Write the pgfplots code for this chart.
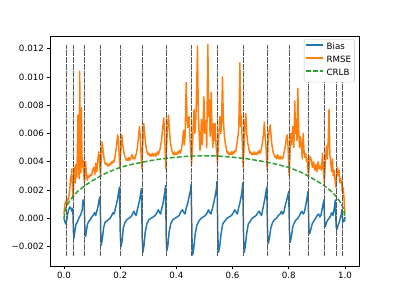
\documentclass[border=0pt]{standalone}
\usepackage{fontspec}
\setmainfont{DejaVu Sans}
\usepackage{pgfplots}
\pgfplotsset{compat=1.18}
\definecolor{mplblue}{HTML}{1F77B4}
\definecolor{mplorange}{HTML}{FF7F0E}
\definecolor{mplgreen}{HTML}{2CA02C}
\begin{document}
\begin{tikzpicture}
\path[use as bounding box] (-57.6pt,-38.02pt) rectangle (403.2pt,307.58pt);
\begin{axis}[
  at={(0,0)}, anchor=south west,
  scale only axis, width=357.12pt, height=266.11pt,
  xmin=-0.05, xmax=1.05, ymin=-0.0034, ymax=0.0129,
  xtick={0,0.2,0.4,0.6,0.8,1.0},
  xticklabels={0.0,0.2,0.4,0.6,0.8,1.0},
  ytick={-0.002,0,0.002,0.004,0.006,0.008,0.010,0.012},
  yticklabels={−0.002,0.000,0.002,0.004,0.006,0.008,0.010,0.012},
  scaled y ticks=false, scaled x ticks=false,
  tick align=outside, major tick length=3.5pt,
  every tick/.style={black, line width=0.8pt},
  axis line style={line width=0.8pt},
  ticklabel style={font=\fontsize{10}{12}\selectfont},
  xtick pos=bottom, ytick pos=left,
  legend cell align=left,
  legend style={at={(1,1)}, anchor=north east, xshift=-5pt, yshift=-4pt,
    draw=black!25, fill=white,
    rounded corners=2pt, font=\fontsize{10}{12}\selectfont,
    inner xsep=1pt, inner ysep=3pt, row sep=2.01pt,
    nodes={inner xsep=3pt, inner ysep=1.5pt, text height=7.5pt, text depth=2.5pt}},
  legend image code/.code={\draw[#1, line width=2pt] (0pt,3.5pt) -- (20pt,3.5pt);},
]
\addplot[mplblue, line width=1.7pt, line join=round] coordinates {
(0.000,0.0000) (0.003,-0.0002) (0.006,-0.0004) (0.0095,-0.0002) (0.013,0.0003) (0.017,0.0006) (0.021,0.0008) (0.025,0.0007) (0.028,0.0005) (0.030,0.0007) (0.032,0.0004) (0.034,-0.0010) (0.036,-0.0014) (0.039,-0.0009) (0.043,-0.0004) (0.047,-0.0003) (0.051,-0.0001) (0.055,0.0001) (0.059,0.0002) (0.062,0.0004) (0.065,0.0006) (0.068,0.0013) (0.071,0.0012) (0.0725,0.0008) (0.0745,-0.0008) (0.077,-0.0013) (0.080,-0.0009) (0.084,-0.0004) (0.089,-0.0002) (0.094,-0.0001) (0.099,0.0001) (0.104,0.0002) (0.109,0.0004) (0.113,0.0002) (0.117,0.0005) (0.121,0.0008) (0.125,0.0013) (0.128,0.0015) (0.1295,0.0008) (0.131,-0.0010) (0.133,-0.0019) (0.137,-0.0014) (0.141,-0.0007) (0.146,-0.0003) (0.152,-0.0002) (0.158,-0.0001) (0.164,0.0000) (0.170,0.0002) (0.175,0.0004) (0.179,0.0003) (0.183,0.0007) (0.187,0.0010) (0.191,0.0014) (0.195,0.0019) (0.1975,0.0022) (0.199,0.0005) (0.2005,-0.0012) (0.203,-0.0020) (0.207,-0.0016) (0.211,-0.0007) (0.217,-0.0003) (0.224,-0.0001) (0.231,0.0000) (0.238,0.0001) (0.244,0.0003) (0.249,0.0005) (0.253,0.0003) (0.257,0.0002) (0.261,0.0006) (0.266,0.0010) (0.270,0.0014) (0.2735,0.0018) (0.2755,0.0021) (0.277,0.0004) (0.2785,-0.0014) (0.281,-0.0024) (0.285,-0.0019) (0.289,-0.0010) (0.295,-0.0004) (0.302,-0.0001) (0.310,0.0000) (0.318,0.0001) (0.325,0.0002) (0.331,0.0004) (0.336,0.0006) (0.340,0.0004) (0.344,0.0003) (0.348,0.0007) (0.352,0.0010) (0.356,0.0015) (0.3595,0.0019) (0.361,0.0023) (0.3625,0.0006) (0.364,-0.0014) (0.366,-0.0023) (0.370,-0.0019) (0.374,-0.0010) (0.380,-0.0004) (0.387,-0.0001) (0.395,0.0000) (0.403,0.0001) (0.410,0.0002) (0.417,0.0005) (0.422,0.0006) (0.427,0.0004) (0.431,0.0003) (0.436,0.0008) (0.441,0.0011) (0.446,0.0016) (0.4505,0.0020) (0.4525,0.0024) (0.454,0.0006) (0.4555,-0.0014) (0.458,-0.0026) (0.462,-0.0021) (0.467,-0.0011) (0.473,-0.0005) (0.480,-0.0002) (0.488,0.0000) (0.496,0.0001) (0.503,0.0002) (0.510,0.0004) (0.514,0.0006) (0.519,0.0004) (0.523,0.0003) (0.528,0.0007) (0.533,0.0011) (0.538,0.0016) (0.5425,0.0021) (0.5445,0.0026) (0.546,0.0007) (0.5475,-0.0013) (0.550,-0.0024) (0.554,-0.0020) (0.559,-0.0011) (0.565,-0.0004) (0.572,-0.0002) (0.580,0.0000) (0.588,0.0001) (0.596,0.0002) (0.603,0.0004) (0.608,0.0006) (0.613,0.0004) (0.617,0.0003) (0.621,0.0007) (0.626,0.0011) (0.631,0.0016) (0.6345,0.0021) (0.636,0.0025) (0.6375,0.0006) (0.639,-0.0013) (0.6415,-0.0024) (0.645,-0.0020) (0.650,-0.0011) (0.656,-0.0004) (0.663,-0.0002) (0.670,0.0000) (0.677,0.0001) (0.684,0.0002) (0.690,0.0004) (0.695,0.0005) (0.699,0.0003) (0.703,0.0002) (0.707,0.0006) (0.711,0.0010) (0.715,0.0014) (0.719,0.0019) (0.7215,0.0022) (0.723,0.0005) (0.7245,-0.0011) (0.727,-0.0018) (0.731,-0.0014) (0.736,-0.0007) (0.742,-0.0003) (0.749,-0.0001) (0.756,0.0000) (0.763,0.0002) (0.769,0.0003) (0.774,0.0005) (0.778,0.0003) (0.782,0.0004) (0.786,0.0008) (0.790,0.0011) (0.794,0.0014) (0.7975,0.0017) (0.7995,0.0019) (0.801,0.0004) (0.8025,-0.0010) (0.805,-0.0017) (0.809,-0.0013) (0.814,-0.0006) (0.820,-0.0003) (0.826,-0.0001) (0.832,0.0000) (0.838,0.0002) (0.843,0.0004) (0.847,0.0005) (0.851,0.0003) (0.855,0.0004) (0.859,0.0008) (0.863,0.0012) (0.866,0.0016) (0.8685,0.0019) (0.870,0.0004) (0.8715,-0.0007) (0.874,-0.0011) (0.878,-0.0008) (0.883,-0.0004) (0.889,-0.0002) (0.895,0.0000) (0.901,0.0002) (0.906,0.0003) (0.910,0.0001) (0.914,0.0002) (0.918,0.0006) (0.922,0.0010) (0.925,0.0013) (0.9263,0.0004) (0.928,-0.0004) (0.930,-0.0006) (0.934,-0.0003) (0.939,-0.0001) (0.944,0.0000) (0.949,0.0002) (0.953,0.0004) (0.957,0.0002) (0.960,0.0005) (0.963,0.0009) (0.9655,0.0013) (0.967,0.0002) (0.9685,-0.0006) (0.971,-0.0008) (0.975,-0.0005) (0.979,-0.0003) (0.983,0.0000) (0.986,0.0002) (0.989,0.0006) (0.9905,0.0002) (0.992,-0.0003) (0.995,-0.0001) (0.998,-0.0002) (1.000,0.0001)
};
\addlegendentry{Bias}
\addplot[mplorange, line width=1.7pt, line join=round] coordinates {
(0.000,0.0003) (0.003,0.0009) (0.006,0.0012) (0.0095,0.0010) (0.012,0.0014) (0.015,0.0013) (0.018,0.0016) (0.021,0.0021) (0.024,0.0030) (0.026,0.0026) (0.028,0.0035) (0.030,0.0022) (0.033,0.0014) (0.036,0.0031) (0.038,0.0036) (0.040,0.0025) (0.042,0.0038) (0.044,0.0030) (0.046,0.0029) (0.048,0.0050) (0.050,0.0073) (0.052,0.0040) (0.054,0.0028) (0.056,0.0104) (0.058,0.0060) (0.060,0.0032) (0.062,0.0078) (0.064,0.0045) (0.066,0.0036) (0.068,0.0041) (0.070,0.0032) (0.0737,0.0025) (0.077,0.0040) (0.080,0.0032) (0.083,0.0027) (0.086,0.0030) (0.090,0.0029) (0.094,0.0031) (0.098,0.0030) (0.102,0.0034) (0.106,0.0036) (0.110,0.0031) (0.113,0.0039) (0.117,0.0033) (0.121,0.0042) (0.124,0.0047) (0.127,0.0040) (0.130,0.0030) (0.133,0.0044) (0.136,0.0054) (0.139,0.0048) (0.143,0.0042) (0.146,0.0039) (0.149,0.0038) (0.152,0.0039) (0.155,0.0037) (0.158,0.0038) (0.161,0.0037) (0.164,0.0039) (0.167,0.0038) (0.170,0.0040) (0.173,0.0039) (0.176,0.0041) (0.179,0.0040) (0.183,0.0045) (0.187,0.0051) (0.191,0.0059) (0.194,0.0055) (0.197,0.0043) (0.199,0.0035) (0.202,0.0047) (0.206,0.0059) (0.209,0.0052) (0.213,0.0047) (0.216,0.0044) (0.219,0.0043) (0.222,0.0041) (0.225,0.0042) (0.228,0.0041) (0.231,0.0043) (0.234,0.0041) (0.237,0.0042) (0.240,0.0044) (0.243,0.0045) (0.246,0.0042) (0.249,0.0043) (0.252,0.0042) (0.255,0.0044) (0.258,0.0046) (0.262,0.0051) (0.266,0.0059) (0.269,0.0065) (0.272,0.0056) (0.275,0.0043) (0.277,0.0035) (0.280,0.0050) (0.284,0.0067) (0.287,0.0060) (0.291,0.0052) (0.295,0.0047) (0.300,0.0045) (0.303,0.0046) (0.306,0.0044) (0.309,0.0045) (0.312,0.0044) (0.315,0.0046) (0.318,0.0044) (0.321,0.0045) (0.324,0.0046) (0.327,0.0044) (0.330,0.0045) (0.333,0.0047) (0.336,0.0045) (0.339,0.0047) (0.342,0.0049) (0.347,0.0055) (0.351,0.0063) (0.355,0.0071) (0.358,0.0062) (0.3605,0.0045) (0.3625,0.0035) (0.365,0.0049) (0.368,0.0064) (0.372,0.0073) (0.375,0.0063) (0.379,0.0053) (0.384,0.0048) (0.387,0.0046) (0.390,0.0045) (0.393,0.0047) (0.396,0.0045) (0.399,0.0046) (0.402,0.0045) (0.405,0.0047) (0.408,0.0046) (0.411,0.0048) (0.414,0.0046) (0.418,0.0049) (0.422,0.0055) (0.425,0.0062) (0.428,0.0052) (0.431,0.0058) (0.435,0.0096) (0.438,0.0070) (0.441,0.0064) (0.445,0.0072) (0.448,0.0058) (0.451,0.0048) (0.454,0.0038) (0.457,0.0050) (0.460,0.0066) (0.463,0.0077) (0.466,0.0060) (0.469,0.0070) (0.472,0.0088) (0.475,0.0122) (0.478,0.0075) (0.481,0.0060) (0.484,0.0048) (0.487,0.0058) (0.489,0.0070) (0.492,0.0052) (0.495,0.0065) (0.498,0.0086) (0.501,0.0060) (0.505,0.0069) (0.508,0.0050) (0.512,0.0123) (0.515,0.0072) (0.517,0.0084) (0.520,0.0058) (0.522,0.0066) (0.524,0.0089) (0.527,0.0060) (0.530,0.0050) (0.532,0.0067) (0.535,0.0055) (0.538,0.0067) (0.541,0.0052) (0.544,0.0045) (0.546,0.0039) (0.549,0.0050) (0.552,0.0062) (0.555,0.0072) (0.558,0.0060) (0.561,0.0068) (0.564,0.0100) (0.567,0.0070) (0.570,0.0060) (0.574,0.0053) (0.578,0.0049) (0.581,0.0046) (0.584,0.0047) (0.587,0.0045) (0.590,0.0046) (0.593,0.0045) (0.596,0.0047) (0.599,0.0045) (0.602,0.0047) (0.605,0.0046) (0.608,0.0048) (0.611,0.0047) (0.614,0.0051) (0.618,0.0056) (0.622,0.0064) (0.626,0.0110) (0.629,0.0065) (0.631,0.0073) (0.634,0.0056) (0.6375,0.0036) (0.641,0.0052) (0.644,0.0068) (0.647,0.0074) (0.650,0.0060) (0.654,0.0053) (0.659,0.0048) (0.662,0.0046) (0.665,0.0047) (0.668,0.0045) (0.671,0.0046) (0.674,0.0045) (0.677,0.0047) (0.680,0.0045) (0.683,0.0046) (0.686,0.0045) (0.689,0.0047) (0.692,0.0046) (0.695,0.0048) (0.698,0.0046) (0.701,0.0048) (0.705,0.0052) (0.709,0.0058) (0.713,0.0068) (0.716,0.0057) (0.719,0.0050) (0.723,0.0034) (0.726,0.0052) (0.730,0.0062) (0.734,0.0066) (0.738,0.0055) (0.742,0.0049) (0.745,0.0046) (0.748,0.0045) (0.751,0.0043) (0.754,0.0044) (0.757,0.0042) (0.760,0.0045) (0.763,0.0043) (0.766,0.0042) (0.769,0.0044) (0.772,0.0042) (0.775,0.0043) (0.778,0.0042) (0.781,0.0045) (0.785,0.0048) (0.789,0.0053) (0.792,0.0058) (0.795,0.0059) (0.798,0.0047) (0.801,0.0030) (0.804,0.0045) (0.807,0.0060) (0.810,0.0052) (0.814,0.0065) (0.818,0.0050) (0.821,0.0083) (0.824,0.0060) (0.826,0.0070) (0.829,0.0055) (0.832,0.0092) (0.835,0.0063) (0.838,0.0050) (0.841,0.0058) (0.845,0.0051) (0.848,0.0042) (0.851,0.0060) (0.854,0.0048) (0.857,0.0043) (0.860,0.0046) (0.863,0.0040) (0.866,0.0042) (0.870,0.0029) (0.873,0.0040) (0.876,0.0044) (0.880,0.0041) (0.884,0.0036) (0.888,0.0040) (0.892,0.0034) (0.896,0.0038) (0.900,0.0033) (0.904,0.0040) (0.908,0.0035) (0.912,0.0037) (0.916,0.0034) (0.920,0.0046) (0.923,0.0035) (0.9263,0.0025) (0.930,0.0040) (0.934,0.0051) (0.937,0.0042) (0.940,0.0055) (0.943,0.0077) (0.946,0.0045) (0.949,0.0039) (0.952,0.0033) (0.955,0.0042) (0.958,0.0030) (0.961,0.0034) (0.964,0.0028) (0.967,0.0022) (0.970,0.0030) (0.973,0.0036) (0.976,0.0030) (0.979,0.0034) (0.982,0.0025) (0.985,0.0028) (0.988,0.0024) (0.9905,0.0018) (0.993,0.0022) (0.996,0.0015) (1.000,0.0003)
};
\addlegendentry{RMSE}
\addplot[mplgreen, line width=1.7pt, dash pattern=on 5.55pt off 2.4pt] coordinates {
(0.000,0.00000) (0.005,0.00062) (0.010,0.00088) (0.020,0.00123) (0.035,0.00162) (0.050,0.00192) (0.075,0.00232) (0.100,0.00264) (0.150,0.00320) (0.200,0.00360) (0.250,0.00385) (0.300,0.00405) (0.350,0.00421) (0.400,0.00432) (0.450,0.00440) (0.500,0.00442) (0.550,0.00440) (0.600,0.00432) (0.650,0.00421) (0.700,0.00405) (0.750,0.00385) (0.800,0.00360) (0.850,0.00320) (0.900,0.00264) (0.925,0.00232) (0.950,0.00192) (0.965,0.00162) (0.980,0.00123) (0.990,0.00088) (0.995,0.00062) (1.000,0.00000)
};
\addlegendentry{CRLB}
\pgfplotsinvokeforeach{0.0095,0.033,0.0737,0.130,0.199,0.277,0.3625,0.454,0.546,0.6375,0.723,0.801,0.870,0.9263,0.967,0.9905}{
  \addplot[black!65, line width=0.45pt, dash pattern=on 0.45pt off 0.9pt, forget plot] coordinates {(#1,-0.00265) (#1,0.01225)};
}
\end{axis}
\end{tikzpicture}
\end{document}
